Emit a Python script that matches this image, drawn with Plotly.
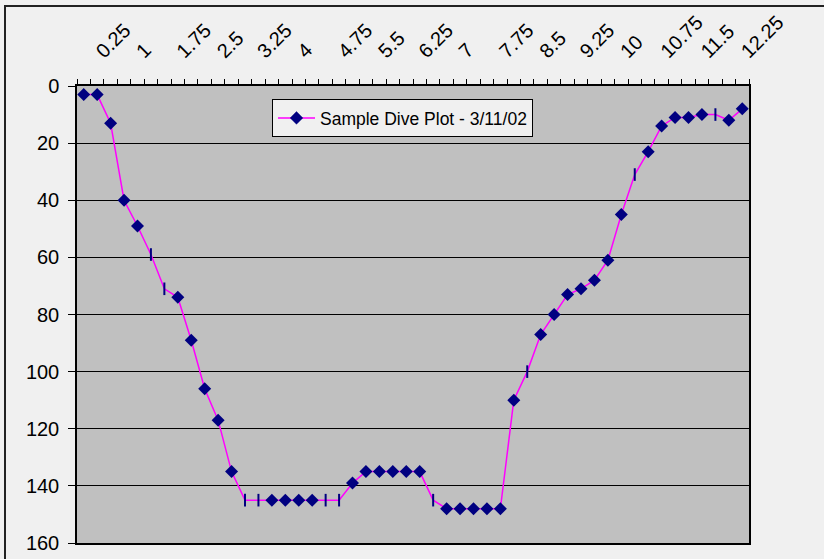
import plotly.graph_objects as go

# Elapsed time categories (minutes)
times = [0, 0.25, 0.5, 0.75, 1, 1.25, 1.5, 1.75, 2, 2.25,
         2.5, 2.75, 3, 3.25, 3.5, 3.75, 4, 4.25, 4.5, 4.75,
         5, 5.25, 5.5, 5.75, 6, 6.25, 6.5, 6.75, 7, 7.25,
         7.5, 7.75, 8, 8.25, 8.5, 8.75, 9, 9.25, 9.5, 9.75,
         10, 10.25, 10.5, 10.75, 11, 11.25, 11.5, 11.75, 12, 12.25]

# Depth values
depths = [3, 3, 13, 40, 49, 59, 71, 74, 89, 106,
          117, 135, 145, 145, 145, 145, 145, 145, 145, 145,
          139, 135, 135, 135, 135, 135, 145, 148, 148, 148,
          148, 148, 110, 100, 87, 80, 73, 71, 68, 61,
          45, 31, 23, 14, 11, 11, 10, 10, 12, 8]

# Points drawn as a short vertical dash instead of a diamond
dash_points = [5, 6, 12, 13, 18, 19, 26, 33, 41, 47]

tick_values = [0.25, 1, 1.75, 2.5, 3.25, 4, 4.75, 5.5, 6.25, 7,
               7.75, 8.5, 9.25, 10, 10.75, 11.5, 12.25]
tick_labels = ["0.25", "1", "1.75", "2.5", "3.25", "4", "4.75", "5.5", "6.25", "7",
               "7.75", "8.5", "9.25", "10", "10.75", "11.5", "12.25"]

series_name = "Sample Dive Plot - 3/11/02"

symbols = ["line-ns" if i in dash_points else "diamond" for i in range(len(depths))]
sizes = [9 if i in dash_points else 10 for i in range(len(depths))]
lwidths = [2 if i in dash_points else 0 for i in range(len(depths))]

boundaries = [t - 0.125 for t in times] + [times[-1] + 0.125]

L, R, T, B = 77, 749, 86, 543
PW, PH = R - L, B - T


def px_x(p):
    return (p - L) / PW


def px_y(p):
    return (B - p) / PH


fig = go.Figure()
fig.add_trace(go.Scatter(
    x=times, y=depths, name=series_name, mode="lines+markers",
    line=dict(color="#ff00ff", width=1.5),
    marker=dict(symbol=symbols, size=sizes, color="#000080", opacity=1,
                line=dict(color="#000080", width=lwidths)),
    showlegend=True,
))

fig.update_layout(
    width=824, height=559,
    margin=dict(l=L, r=824 - R, t=T, b=559 - B, autoexpand=False),
    paper_bgcolor="#f0f0f0",
    plot_bgcolor="#c0c0c0",
    font=dict(family="Liberation Sans, Arial, sans-serif", color="black"),
    showlegend=True,
    legend=dict(x=px_x(272), y=px_y(99), xanchor="left", yanchor="top",
                bgcolor="#f0f0f0", bordercolor="black", borderwidth=1,
                itemwidth=37, font=dict(size=17.5)),
    xaxis=dict(
        type="linear", range=[-0.125, 12.375], side="top", automargin=False,
        tickmode="array", tickvals=tick_values, ticktext=tick_labels,
        tickangle=-45, ticks="", tickfont=dict(size=20), ticklabelstandoff=14,
        showgrid=False, zeroline=False,
        showline=True, linecolor="black", linewidth=1.5, mirror=True,
        minor=dict(tickmode="array", tickvals=boundaries, ticks="outside",
                   ticklen=5, tickcolor="black", tickwidth=1, showgrid=False),
    ),
    yaxis=dict(
        range=[160, 0], tickmode="linear", tick0=0, dtick=20, automargin=False,
        ticks="outside", ticklen=7, tickcolor="black", tickfont=dict(size=20),
        ticklabelstandoff=5,
        showgrid=True, gridcolor="black", gridwidth=1, zeroline=False,
        showline=True, linecolor="black", linewidth=1.5, mirror=True,
    ),
    shapes=[dict(type="rect", xref="paper", yref="paper",
                 x0=px_x(5), x1=px_x(840),
                 y0=px_y(575), y1=px_y(6),
                 line=dict(color="#222222", width=2), fillcolor="rgba(0,0,0,0)",
                 layer="below")],
)

fig.write_html("out.html",
               config={"displayModeBar": False},
               post_script="document.body.style.margin='0';document.body.style.background='#f0f0f0';")
